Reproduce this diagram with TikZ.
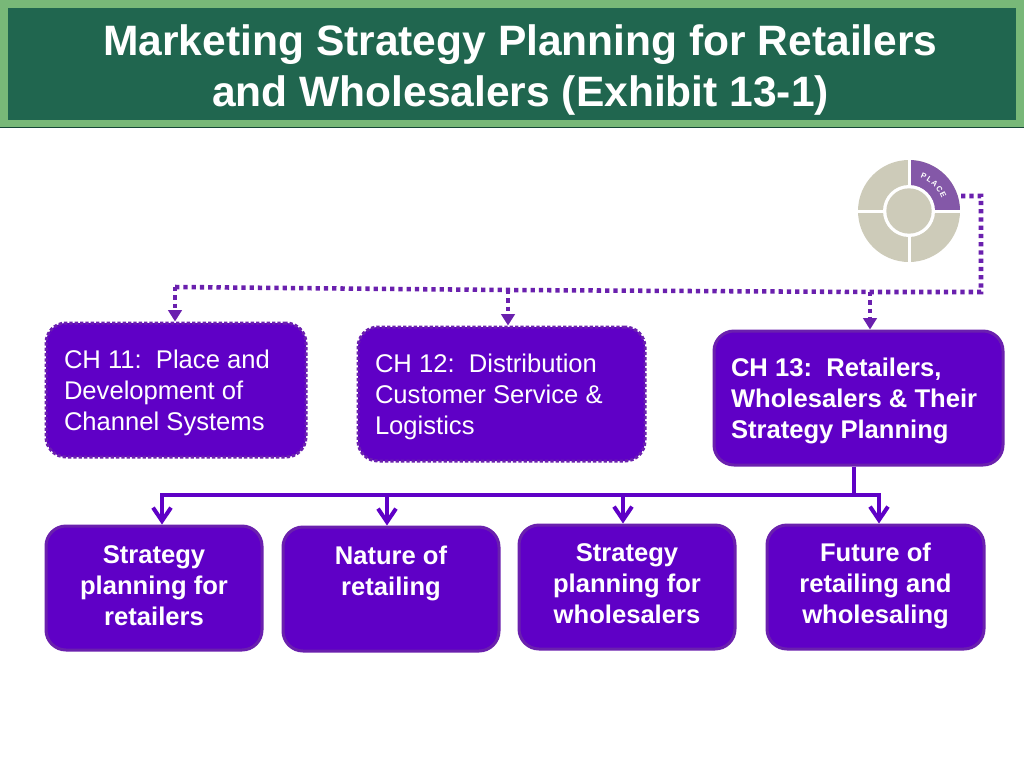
\documentclass[tikz,border=0pt]{standalone}
\usepackage{fontspec}
\setmainfont{Liberation Sans}
\usetikzlibrary{arrows.meta,decorations.text}
\definecolor{hdrdark}{HTML}{20664F}
\definecolor{hdrlight}{HTML}{78B878}
\definecolor{boxfill}{HTML}{5F00C6}
\definecolor{boxedge}{HTML}{6A20AE}
\definecolor{wheelgray}{HTML}{CDCBB9}
\definecolor{wheelpurple}{HTML}{8458A8}
\newdimen\px \px=0.75pt
% width, height, top offset (px), text
\newcommand{\ctrtxt}[4]{\parbox[c][#2\px][t]{#1\px}{\centering\vspace*{#3\px}\strut #4}}
\newcommand{\lefttxt}[5]{\parbox[c][#2\px][t]{#1\px}{\raggedright\leftskip=#4\px\vspace*{#3\px}\strut #5}}
\tikzset{
  x=0.75pt,y=-0.75pt,
  chbox/.style={draw=boxedge,fill=boxfill,line width=2.25pt,rounded corners=15pt,inner sep=0pt,text=white,
    font=\fontsize{19.2}{23.25}\selectfont},
  dotbox/.style={chbox,dash pattern=on 2.5pt off 1.5pt},
  boldbox/.style={chbox,font=\fontsize{19.2}{23.25}\selectfont\bfseries},
  dotline/.style={draw=boxedge,line width=3.4pt,dash pattern=on 3.2pt off 3pt},
  dotarrow/.style={dotline,-{Triangle[length=8.5pt,width=10pt,fill=boxedge]}},
  busline/.style={draw=boxfill,line width=3pt},
  busarrow/.style={busline,-{Straight Barb[length=10pt,width=13.5pt,line width=3pt]}},
}
\begin{document}
\begin{tikzpicture}
\useasboundingbox (0,0) rectangle (1024,768);
\fill[white] (0,0) rectangle (1024,768);
% header
\fill[hdrlight] (0,0) rectangle (1024,127);
\fill[hdrdark] (8,8) rectangle (1016,120);
\draw[hdrdark!70!black,line width=0.9pt] (0,127.5) -- (1024,127.5);
\node[text=white,align=center,inner sep=0pt,font=\fontsize{31.9}{38.25}\selectfont\bfseries] (title) at (520.5,70)
  {Marketing Strategy Planning for Retailers\\and Wholesalers (Exhibit 13-1)};
% wheel
\coordinate (wc) at (909,211);
\fill[wheelgray] (wc) circle[radius=38.25pt];
\begin{scope}
  \clip (909,155) rectangle (965,211);
  \fill[wheelpurple] (wc) circle[radius=38.25pt];
\end{scope}
\draw[white,line width=2.25pt] (909,158) -- (909,264) (856,211) -- (962,211);
\fill[white] (wc) circle[radius=19.5pt];
\fill[wheelgray] (wc) circle[radius=17pt];
\path[decorate,decoration={text along path,text align=center,
  text={|\fontsize{5.8}{7}\selectfont\bfseries\color{white}|P{\kern0.8pt}L{\kern0.8pt}A{\kern0.8pt}C{\kern0.8pt}E}}]
  (911.4,176.1) .. controls (928.4,177.3) and (941.9,190.5) .. (943.8,207.4);
\coordinate (wout) at (961,196);
% boxes
\node[dotbox] (ch11) at (176,390) {\lefttxt{260}{134}{24}{18}{CH 11:\ \ Place and\\Development of\\Channel Systems}};
\node[dotbox] (ch12) at (501.5,394) {\lefttxt{287}{134}{24}{17}{CH 12:\ \ Distribution\\Customer Service \&\\Logistics}};
\node[boldbox] (ch13) at (858.5,398) {\lefttxt{289}{134}{24}{17}{CH 13:\ \ Retailers,\\Wholesalers \& Their\\Strategy Planning}};
\node[boldbox] (b1) at (154,588) {\ctrtxt{216}{124}{16}{Strategy\\planning for\\retailers}};
\node[boldbox] (b2) at (391,589) {\ctrtxt{216}{124}{16}{Nature of\\retailing}};
\node[boldbox] (b3) at (627,587) {\ctrtxt{216}{124}{15}{Strategy\\planning for\\wholesalers}};
\node[boldbox] (b4) at (875.5,587) {\ctrtxt{217}{124}{15}{Future of\\retailing and\\wholesaling}};
% dotted connectors
\coordinate (d0) at (981,196);
\coordinate (d1) at (981,292);
\coordinate (d2) at (870,292);
\coordinate (d3) at (508,290);
\coordinate (d4) at (175,287);
\draw[dotline] (wout) -- (d0) -- (d1) -- (d2) -- (d3) -- (d4);
\draw[dotarrow] (d4) -- (d4 |- ch11.north);
\draw[dotarrow] (d3) -- (d3 |- ch12.north);
\draw[dotarrow] (d2) -- (d2 |- ch13.north);
% solid connectors
\coordinate (t) at (854,495);
\coordinate (bl) at (162,495);
\coordinate (bm1) at (387,495);
\coordinate (bm2) at (623,495);
\coordinate (br) at (879,495);
\draw[busline] (t |- ch13.south) -- (t);
\draw[busline,line cap=rect] (bl) -- (br);
\draw[busarrow] (bl) -- (bl |- b1.north);
\draw[busarrow] (bm1) -- (bm1 |- b2.north);
\draw[busarrow] (bm2) -- (bm2 |- b3.north);
\draw[busarrow] (br) -- (br |- b4.north);
\end{tikzpicture}
\end{document}
